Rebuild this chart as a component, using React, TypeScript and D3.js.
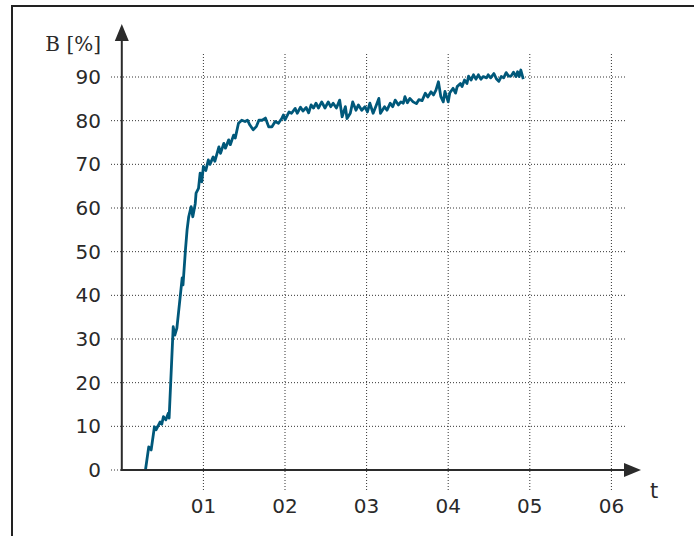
import React from "react";
import * as d3 from "d3";

const times: number[] = [
  0.29, 0.33, 0.36, 0.40, 0.42, 0.47, 0.49, 0.51, 0.54, 0.57, 0.58, 0.63, 0.65, 0.675, 0.74, 0.75, 0.78, 0.80,
  0.82, 0.85, 0.87, 0.90, 0.91, 0.94, 0.96, 0.98, 1.00, 1.03, 1.06, 1.08, 1.12, 1.14, 1.19, 1.21, 1.25, 1.27,
  1.31, 1.33, 1.37, 1.39, 1.43, 1.47, 1.51, 1.54, 1.57, 1.61, 1.65, 1.68, 1.72, 1.76, 1.80, 1.84, 1.88, 1.92,
  1.96, 1.98, 2.00, 2.05, 2.08, 2.125, 2.15, 2.19, 2.22, 2.26, 2.29, 2.32, 2.35, 2.38, 2.41, 2.45, 2.49, 2.53,
  2.56, 2.59, 2.63, 2.67, 2.70, 2.74, 2.76, 2.80, 2.83, 2.87, 2.90, 2.94, 2.98, 3.01, 3.04, 3.08, 3.12, 3.15,
  3.17, 3.22, 3.25, 3.29, 3.32, 3.35, 3.39, 3.42, 3.45, 3.47, 3.50, 3.53, 3.57, 3.61, 3.64, 3.68, 3.72, 3.75,
  3.79, 3.82, 3.85, 3.88, 3.91, 3.94, 3.96, 4.00, 4.02, 4.06, 4.09, 4.11, 4.15, 4.17, 4.20, 4.23, 4.25, 4.28,
  4.31, 4.34, 4.37, 4.40, 4.43, 4.47, 4.49, 4.52, 4.56, 4.59, 4.62, 4.65, 4.68, 4.71, 4.74, 4.77, 4.80, 4.83,
  4.85, 4.87, 4.89, 4.92,
];

const values: number[] = [
  0, 5.3, 4.6, 9.9, 9.2, 11, 10.5, 12.2, 11.5, 13, 11.9, 32.8, 30.9, 32.5, 44, 42.4, 50.4, 55,
  58, 60.3, 58, 61, 63.4, 64.5, 68, 66, 69.5, 68.6, 71, 70, 71.7, 70.7, 74, 72.5, 74.8, 73.7,
  75.6, 74.5, 76.7, 76, 79.4, 80.1, 79.8, 80.1, 79, 77.9, 78.7, 80.1, 80.1, 80.6, 78.6, 78.6, 79.8, 79.4,
  80.5, 81.3, 80.2, 82, 81.7, 82.8, 81.7, 83.1, 82.2, 83, 81.8, 83.6, 82.9, 84, 82.9, 84.3, 82.9, 84.3,
  83.2, 84, 82.9, 84.7, 80.9, 83.2, 80.5, 81.7, 84.3, 82.4, 83.6, 82.4, 83.2, 82, 84, 81.7, 83.6, 85.1,
  81.7, 83.2, 82.4, 84, 83.2, 84.7, 83.6, 84.3, 84, 85.5, 84.1, 85.1, 84.3, 83.9, 84.8, 84.6, 86.3, 85.4,
  86.6, 85.9, 87, 88.9, 85.5, 84.3, 86.7, 84.3, 86.4, 87.4, 86.3, 87.8, 88.5, 87.8, 89.3, 88.5, 90.2, 89.3,
  90.5, 89.5, 90.5, 89.5, 90.1, 89.8, 90.5, 89.8, 90.8, 89.6, 89.0, 90.1, 89.8, 91.0, 90.2, 90.2, 91.1, 90.1,
  91.2, 90.1, 91.6, 89.5,
];

const yTicks: number[] = [0, 10, 20, 30, 40, 50, 60, 70, 80, 90];
const xTicks: number[] = [1, 2, 3, 4, 5, 6];
const xTickLabels: string[] = ["01", "02", "03", "04", "05", "06"];
const yLabel = "B [%]";
const xLabel = "t";

export default function App() {
  const W = 694;
  const H = 536;
  const x = d3.scaleLinear().domain([0, 6]).range([121.8, 611.4]);
  const y = d3.scaleLinear().domain([0, 90]).range([470, 77]);

  const line = d3
    .line<number>()
    .x((_, i) => x(times[i]))
    .y((d) => y(d))
    .curve(d3.curveLinear);

  const axisColor = "#2b2b2b";
  const gridColor = "#333";
  const tickFont = "'DejaVu Sans', sans-serif";
  const textColor = "#2a2a2a";
  const x0 = x(0);
  const y0 = y(0);

  return (
    <svg
      width={W}
      height={H}
      style={{ position: "absolute", left: 0, top: 0, background: "#fff" }}
    >
      {/* frame */}
      <path d={`M12,${H + 2} V6 H${W + 2}`} fill="none" stroke="#222" strokeWidth={2} />

      {/* horizontal grid */}
      {yTicks.map((t) => (
        <line
          key={`hy${t}`}
          x1={111}
          x2={625}
          y1={y(t)}
          y2={y(t)}
          stroke={gridColor}
          strokeWidth={1}
          strokeDasharray="1,2"
        />
      ))}
      {/* vertical grid */}
      {xTicks.map((t) => (
        <line
          key={`vx${t}`}
          x1={x(t)}
          x2={x(t)}
          y1={54}
          y2={490}
          stroke={gridColor}
          strokeWidth={1}
          strokeDasharray="1,2"
        />
      ))}

      {/* data */}
      <path d={line(values) || ""} fill="none" stroke="#00587a" strokeWidth={2.8} strokeLinejoin="round" />

      {/* axes */}
      <line x1={x0} x2={x0} y1={y0 + 1} y2={38} stroke={axisColor} strokeWidth={2} />
      <path d={`M${x0 - 7},41 L${x0},24 L${x0 + 7},41 Z`} fill={axisColor} />
      <line x1={x0 - 1} x2={626} y1={y0} y2={y0} stroke={axisColor} strokeWidth={2} />
      <path d={`M624,${y0 - 7} L641,${y0} L624,${y0 + 7} Z`} fill={axisColor} />

      {/* y tick labels */}
      {yTicks.map((t) => (
        <text
          key={`yl${t}`}
          x={101}
          y={y(t) + 7}
          textAnchor="end"
          fontFamily={tickFont}
          fontSize={20}
          fill={textColor}
        >
          {t}
        </text>
      ))}
      {/* x tick labels */}
      {xTicks.map((t, i) => (
        <text
          key={`xl${t}`}
          x={x(t)}
          y={513}
          textAnchor="middle"
          fontFamily={tickFont}
          fontSize={20}
          fill={textColor}
        >
          {xTickLabels[i]}
        </text>
      ))}
      <text
        x={101}
        y={51}
        textAnchor="end"
        fontFamily="'DejaVu Serif', serif"
        fontSize={20}
        fill={textColor}
      >
        {yLabel}
      </text>
      <text
        x={654}
        y={498}
        textAnchor="middle"
        fontFamily={tickFont}
        fontSize={21}
        fill={textColor}
      >
        {xLabel}
      </text>
    </svg>
  );
}
